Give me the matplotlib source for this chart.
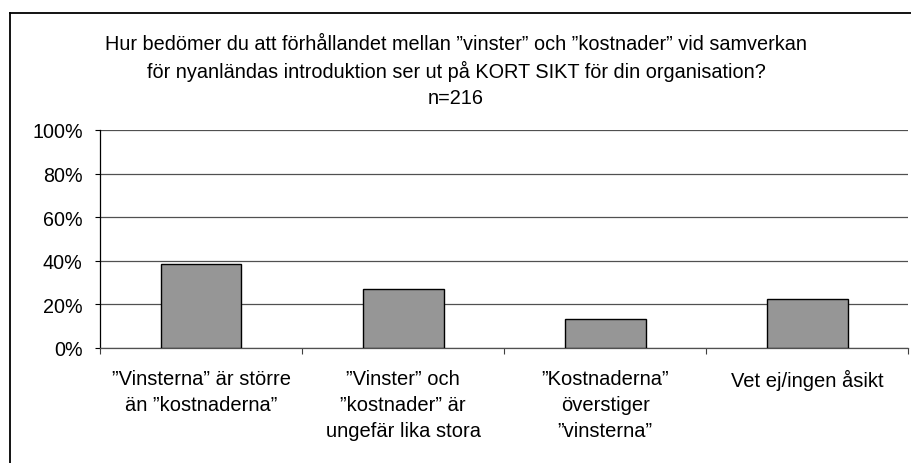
import matplotlib
matplotlib.use("Agg")
import matplotlib.pyplot as plt
from matplotlib.lines import Line2D
from matplotlib.ticker import FixedLocator, NullFormatter

categories = ["”Vinsterna” är större\nän ”kostnaderna”",
              "”Vinster” och\n”kostnader” är\nungefär lika stora",
              "”Kostnaderna”\növerstiger\n”vinsterna”",
              "Vet ej/ingen åsikt"]
values = [38.4, 27.1, 13.3, 22.6]
yticks = [0, 20, 40, 60, 80, 100]
ytick_labels = ["0%", "20%", "40%", "60%", "80%", "100%"]
title_lines = ["Hur bedömer du att förhållandet mellan ”vinster” och ”kostnader” vid samverkan",
               "för nyanländas introduktion ser ut på KORT SIKT för din organisation?",
               "n=216"]

plt.rcParams['font.family'] = ['Liberation Sans', 'DejaVu Sans']

W, H = 912, 464
fig = plt.figure(figsize=(W / 100, H / 100), dpi=100)
ax = fig.add_axes([100 / W, 1 - 349 / H, 808.5 / W, 218 / H])

x = list(range(len(categories)))
ax.bar(x, values, width=0.4, color="#969696", edgecolor="black", linewidth=1.0, zorder=3)
ax.set_xlim(-0.5, len(categories) - 0.5)
ax.set_ylim(0, 100)

ax.set_yticks(yticks)
ax.set_yticklabels(ytick_labels, fontsize=14.2)
ax.tick_params(axis='y', direction='out', length=3.5, width=0.8, pad=9, color='black')
ax.yaxis.grid(True, color="#505050", linewidth=0.9, zorder=0)

ax.set_xticks(x)
ax.set_xticklabels(categories, fontsize=14.5, linespacing=1.47, va='top')
ax.tick_params(axis='x', length=0, pad=15)
ax.xaxis.set_minor_locator(FixedLocator([i - 0.5 for i in range(len(categories) + 1)]))
ax.xaxis.set_minor_formatter(NullFormatter())
ax.tick_params(axis='x', which='minor', direction='out', length=4.5, width=0.8, color='#404040')

for s in ['top', 'right']:
    ax.spines[s].set_visible(False)
ax.spines['left'].set_color('black')
ax.spines['left'].set_linewidth(0.9)
ax.spines['bottom'].set_color('#505050')
ax.spines['bottom'].set_linewidth(0.9)

ys = [44, 71, 98]
for t, yy in zip(title_lines, ys):
    fig.text(456 / W, 1 - yy / H, t, ha='center', va='center', fontsize=14.3)

# outer frame (left and top edges)
fig.add_artist(Line2D([10.5 / W, 10.5 / W], [0, 1 - 13.5 / H], transform=fig.transFigure,
                      color='black', linewidth=1.3))
fig.add_artist(Line2D([10.5 / W, 1], [1 - 13.5 / H, 1 - 13.5 / H], transform=fig.transFigure,
                      color='black', linewidth=1.3))

fig.savefig("out.png", dpi=100)
